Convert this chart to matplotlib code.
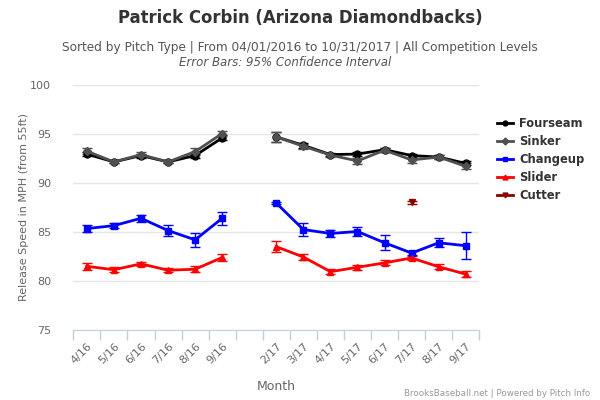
import numpy as np
import matplotlib
matplotlib.use("Agg")
import matplotlib.pyplot as plt
from matplotlib.lines import Line2D

N = np.nan
months = ['4/16', '5/16', '6/16', '7/16', '8/16', '9/16', '',
          '2/17', '3/17', '4/17', '5/17', '6/17', '7/17', '8/17', '9/17']

fourseam = [92.95, 92.15, 92.8, 92.15, 92.8, 94.6, N,
            94.7, 93.85, 92.9, 92.95, 93.4, 92.8, 92.65, 92.0]
fourseam_err = [0.2, 0.15, 0.2, 0.15, 0.2, 0.25, N,
                0.5, 0.25, 0.15, 0.2, 0.2, 0.2, 0.2, 0.2]
sinker = [93.25, 92.15, 92.9, 92.15, 93.2, 95.05, N,
          94.7, 93.75, 92.85, 92.25, 93.35, 92.35, 92.65, 91.7]
sinker_err = [0.3, 0.15, 0.25, 0.15, 0.35, 0.3, N,
              0.55, 0.25, 0.15, 0.3, 0.2, 0.3, 0.2, 0.3]
changeup = [85.35, 85.65, 86.4, 85.15, 84.2, 86.4, N,
            87.95, 85.25, 84.85, 85.05, 83.9, 82.85, 83.9, 83.6]
changeup_err = [0.37, 0.25, 0.33, 0.53, 0.7, 0.68, N,
                0.1, 0.66, 0.4, 0.42, 0.75, 0.2, 0.48, 1.36]
slider = [81.5, 81.15, 81.75, 81.1, 81.2, 82.4, N,
          83.5, 82.45, 80.95, 81.4, 81.85, 82.35, 81.45, 80.7]
slider_err = [0.37, 0.25, 0.2, 0.2, 0.3, 0.35, N,
              0.54, 0.3, 0.25, 0.25, 0.25, 0.2, 0.25, 0.3]
cutter = [N, N, N, N, N, N, N, N, N, N, N, N, 88.05, N, N]
cutter_err = [N, N, N, N, N, N, N, N, N, N, N, N, 0.15, N, N]

series = [
    ('Fourseam', fourseam, fourseam_err, '#000000', 'o', 5),
    ('Sinker', sinker, sinker_err, '#505050', 'D', 4),
    ('Changeup', changeup, changeup_err, '#0000FF', 's', 5),
    ('Slider', slider, slider_err, '#FF0000', '^', 5),
    ('Cutter', cutter, cutter_err, '#8B0000', 'v', 5),
]

fig = plt.figure(figsize=(6, 4), dpi=100)
ax = fig.add_axes([73.3 / 600, 1 - 330 / 400, (479.3 - 73.3) / 600, (330 - 85) / 400])

x = np.arange(len(months))
handles = []
for name, vals, errs, col, mk, ms in series:
    v = np.array(vals, dtype=float)
    e = np.array(errs, dtype=float)
    ax.errorbar(x, v, yerr=e, color=col, marker=mk, markersize=ms, lw=2,
                elinewidth=1, capsize=3.5, capthick=1, zorder=3)
    handles.append(Line2D([0], [0], color=col, lw=2, marker=mk, markersize=3.5))

ax.set_xlim(-0.5, len(months) - 0.5)
ax.set_ylim(75, 100)
ax.set_yticks([75, 80, 85, 90, 95, 100])
ax.yaxis.grid(True, color='#e6e6e6', lw=1)
ax.set_axisbelow(True)
for s in ['top', 'right', 'left']:
    ax.spines[s].set_visible(False)
ax.spines['bottom'].set_color('#C0D0E0')
ax.spines['bottom'].set_zorder(4)
ax.tick_params(axis='y', length=0, labelsize=8, labelcolor='#666666', pad=16)

ax.set_xticks(x)
ax.set_xticklabels(months, rotation=45, ha='right', rotation_mode='anchor',
                   fontsize=8, color='#666666')
ax.tick_params(axis='x', which='major', length=0, pad=8)
ax.set_xticks(np.arange(-0.5, len(months), 1), minor=True)
ax.tick_params(axis='x', which='minor', length=7, color='#C0D0E0', width=1)

ax.set_ylabel('Release Speed in MPH (from 55ft)', fontsize=8, color='#666666', labelpad=1)
ax.set_xlabel('Month', fontsize=9, color='#666666', labelpad=10)

fig.text(0.5, 1 - 18 / 400, 'Patrick Corbin (Arizona Diamondbacks)', ha='center', va='center',
         fontsize=11.9, fontweight='bold', color='#333333')
fig.text(0.5, 1 - 47 / 400,
         'Sorted by Pitch Type | From 04/01/2016 to 10/31/2017 | All Competition Levels',
         ha='center', va='center', fontsize=8.7, color='#555555')
fig.text(0.475, 1 - 62 / 400, 'Error Bars: 95% Confidence Interval', ha='center', va='center',
         fontsize=8.5, color='#555555', style='italic')
fig.text(590 / 600, 1 - 393 / 400, 'BrooksBaseball.net | Powered by Pitch Info', ha='right',
         va='center', fontsize=6.3, color='#999999')

leg = fig.legend(handles, [s[0] for s in series], loc='upper left',
                 bbox_to_anchor=(497 / 600, 1 - 117 / 400), frameon=False,
                 prop={'weight': 'bold', 'size': 8.3}, handlelength=1.4,
                 handletextpad=0.5, labelspacing=0.43, borderpad=0, borderaxespad=0)
for t in leg.get_texts():
    t.set_color('#333333')

fig.savefig('out.png', dpi=100)
